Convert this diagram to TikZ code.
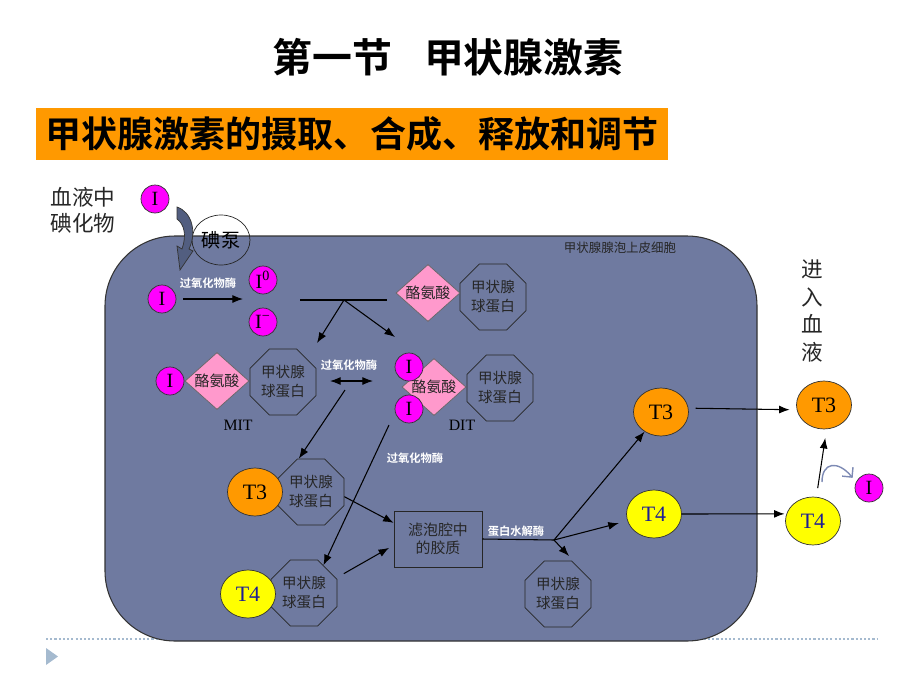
\documentclass[tikz,border=0pt]{standalone}
\usepackage{fontspec}
\setmainfont{Liberation Serif}
\newfontfamily\cjk{Noto Sans CJK SC}
\newfontfamily\cjkbf{Noto Sans CJK SC Bold}
\usetikzlibrary{shapes.geometric, arrows.meta}

\definecolor{iodmag}{RGB}{255,0,255}
\definecolor{acidpink}{RGB}{255,153,204}
\definecolor{hormorange}{RGB}{255,153,0}
\definecolor{hormyellow}{RGB}{255,255,0}
\definecolor{t4blue}{RGB}{30,30,150}
\definecolor{cellblue}{RGB}{111,122,160}
\definecolor{bandblue}{RGB}{82,94,128}
\definecolor{curveblue}{RGB}{125,138,180}
\definecolor{footblue}{RGB}{165,186,207}

\begin{document}
\begin{tikzpicture}[x=0.02cm, y=-0.02cm,
        >={Latex[length=6pt,width=4.5pt]},
        arr/.style={->, line width=0.6pt},
        iod/.style={circle, draw=black!80, fill=iodmag, minimum size=0.56cm, inner sep=0pt, font=\fontsize{11.5}{12}\selectfont},
        glob/.style={regular polygon, regular polygon sides=8, draw=black!85, minimum size=1.43cm, inner sep=0pt, align=center, text=black!85, font=\cjk\fontsize{8.3}{10.8}\selectfont},
        acid/.style={diamond, draw=black!60, fill=acidpink, minimum width=1.28cm, minimum height=1.14cm, inner sep=0pt, label={[font=\cjk\fontsize{8.5}{10}\selectfont, text=black!85]center:#1}},
        ht3/.style={ellipse, draw=black!80, fill=hormorange, minimum width=1.1cm, minimum height=0.96cm, inner sep=0pt, font=\fontsize{12.5}{13}\selectfont},
        ht4/.style={ht3, fill=hormyellow, text=t4blue},
        enz/.style={inner sep=0pt, text=white, font=\cjkbf\fontsize{6.4}{7}\selectfont}]
        \useasboundingbox (0,0) rectangle (920,690);

        % Slide heading
        \node[font=\cjkbf\fontsize{22.7}{26}\selectfont] (title) at (448,57) {第一节\hspace{0.8em}甲状腺激素};
        \node[fill=hormorange, minimum width=12.64cm, minimum height=1.04cm, inner sep=0pt, font=\cjkbf\fontsize{20.5}{23}\selectfont] (bar) at (352,134) {甲状腺激素的摄取、合成、释放和调节};

        % Footer rule
        \draw[footblue, line width=1pt, dash pattern=on 1.2pt off 1.2pt] (46,639) -- (878,639);
        \fill[footblue] (46,648) -- (58,656.5) -- (46,665) -- cycle;

        % Follicular cell
        \draw[fill=cellblue, draw=black!80, line width=0.6pt, rounded corners=1.4cm] (105,236) rectangle (757,641);
        \node[text=black!85, font=\cjk\fontsize{7.1}{8}\selectfont] (cellname) at (620,248) {甲状腺腺泡上皮细胞};

        % Iodide uptake
        \node[align=center, text=black!85, font=\cjk\fontsize{12.3}{14.7}\selectfont] (blood) at (83,210) {血液中\\碘化物};
        \node[iod] (iOut) at (155,199) {I};
        \node[ellipse, draw=black!85, minimum width=1.16cm, minimum height=1.0cm, inner sep=0pt, font=\cjk\fontsize{10.9}{12}\selectfont] (pump) at (221,240) {碘泵};
        \filldraw[fill=bandblue, draw=black!80, line width=0.4pt] (177,207) .. controls (192,212) and (197,232) .. (189,249) -- (193,251) -- (180,270) -- (177,246) -- (182,249) .. controls (187,235) and (184,224) .. (177,219) -- cycle;

        % Oxidation
        \node[iod] (iA) at (162,299) {I};
        \node[iod] (i0) at (263,280) {I\textsuperscript{0}};
        \node[iod] (iM) at (263,322) {I\textsuperscript{−}};
        \coordinate (oxEnd) at (243,299);
        \draw[arr, shorten <=4pt] (iA) -- (oxEnd);
        \node[enz] (ox1) at (208,283) {过氧化物酶};

        % Iodination of tyrosine
        \node[glob] (globTop) at (493,297) {甲状腺\\球蛋白};
        \node[acid=酪氨酸] (tyrTop) at (428,293) {};
        \coordinate (splitL) at (300,300);
        \coordinate (splitR) at (387,300);
        \coordinate (splitM) at (344,300);
        \coordinate (toMIT) at (317,343);
        \coordinate (toDIT) at (395,337);
        \draw[line width=0.6pt] (splitL) -- (splitR);
        \draw[arr] (splitM) -- (toMIT);
        \draw[arr] (splitM) -- (toDIT);

        % MIT
        \node[glob] (globMIT) at (283,382) {甲状腺\\球蛋白};
        \node[acid=酪氨酸] (tyrMIT) at (217,381) {};
        \node[iod] (iMIT) at (170,381) {I};
        \node[font=\fontsize{9}{10}\selectfont] (mit) at (238,425) {MIT};

        % DIT
        \node[glob] (globDIT) at (500,388) {甲状腺\\球蛋白};
        \node[acid=酪氨酸] (tyrDIT) at (434,387) {};
        \node[iod] (iDIT1) at (409,367) {I};
        \node[iod] (iDIT2) at (409,409) {I};
        \node[font=\fontsize{9}{10}\selectfont] (dit) at (462,425) {DIT};

        % Coupling
        \coordinate (cplL) at (330,381);
        \coordinate (cplR) at (373,381);
        \draw[<->, line width=0.6pt] (cplL) -- (cplR);
        \node[enz] (ox2) at (349,365) {过氧化物酶};
        \node[glob] (globT3) at (311,492) {甲状腺\\球蛋白};
        \node[ht3] (t3a) at (255,492) {T3};
        \node[glob] (globT4) at (304,593) {甲状腺\\球蛋白};
        \node[ht4] (t4a) at (248,594) {T4};
        \coordinate (cplM) at (345,390);
        \coordinate (cplD) at (389,425);
        \draw[arr] (cplM) -- (globT3.110);
        \draw[arr] (cplD) -- (globT4.55);
        \node[enz] (ox3) at (415,458) {过氧化物酶};

        % Storage in colloid and hydrolysis
        \node[draw=black!85, minimum width=1.76cm, minimum height=1.12cm, inner sep=0pt, align=center, text=black!85, font=\cjk\fontsize{8.5}{10.4}\selectfont] (colloid) at (438,539) {滤泡腔中\\的胶质};
        \draw[arr] (globT3.-8) -- (colloid.160);
        \draw[arr, shorten <=5pt, shorten >=3pt] (globT4.25) -- (colloid.188);
        \coordinate (branch) at (554,540);
        \draw[line width=0.6pt] (colloid.east) -- (branch);
        \node[enz] (hyd) at (516,531) {蛋白水解酶};
        \node[ht3] (t3b) at (661,412) {T3};
        \node[ht4] (t4b) at (654,514) {T4};
        \node[glob] (globFree) at (558,594) {甲状腺\\球蛋白};
        \coordinate (freeEnd) at (569,556);
        \draw[arr] (branch) -- (t3b);
        \draw[arr, shorten >=5pt] (branch) -- (t4b);
        \draw[arr] (branch) -- (freeEnd);

        % Release into blood
        \node[align=center, text=black!85, font=\cjk\fontsize{12.3}{15.6}\selectfont] (enter) at (812,311) {进\\入\\血\\液};
        \node[ht3] (t3c) at (824,405) {T3};
        \node[ht4] (t4c) at (813,521) {T4};
        \node[iod] (iFree) at (869,488) {I};
        \draw[arr, shorten <=4pt, shorten >=4pt] (t3b.8) -- (t3c.190);
        \draw[arr, shorten >=1pt] (t4b.east) -- (t4c.165);
        \draw[arr, shorten <=5pt, shorten >=5pt] (t4c.82) -- (t3c.-84);
        \coordinate (deiod) at (822,482);
        \draw[curveblue, line width=0.8pt, -{Straight Barb[length=4pt]}, shorten >=3pt] (deiod) .. controls (822,462) and (838,460) .. (iFree.155);
\end{tikzpicture}
\end{document}
